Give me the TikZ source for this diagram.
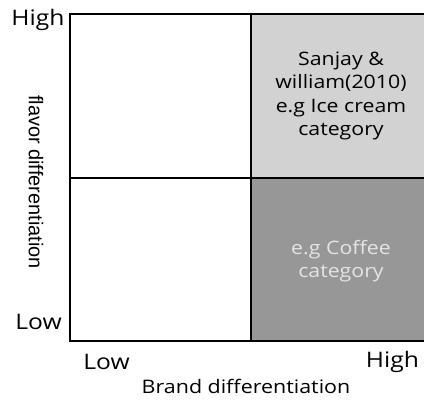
\documentclass[tikz,border=0pt]{standalone}
\usepackage{fontspec}
\setmainfont{Open Sans}[FakeStretch=1.15]
\newfontfamily\sidefont{Liberation Sans}
\begin{document}
\begin{tikzpicture}[x=1bp,y=-1bp,
  frame/.style={line width=1.6bp,draw=black},
  ticklabel/.style={font=\fontsize{21.5}{24}\selectfont,inner sep=0pt},
  axistitle/.style={font=\fontsize{18.7}{22}\selectfont,inner sep=0pt},
  celltext/.style={font=\fontsize{18.6}{23.5}\selectfont,align=center,inner sep=0pt},
]
\definecolor{cellLight}{HTML}{D2D2D2}
\definecolor{cellDark}{HTML}{979797}
\definecolor{textPale}{HTML}{E4E4E4}
\useasboundingbox (0,0) rectangle (424,400);
% shaded quadrants on the high brand side
\fill[cellLight] (251,14) rectangle (424,178);
\fill[cellDark] (251,178) rectangle (424,341);
% grid lines
\draw[frame] (424,14) -- (70,14) -- (70,341) -- (424,341);
\draw[frame] (70,178) -- (424,178);
\draw[frame] (251,14) -- (251,341);
% vertical axis labels
\node[ticklabel] (yhigh) at (38,20) {High};
\node[ticklabel] (ylow) at (38.5,322) {Low};
\node[inner sep=0pt,font=\sidefont\fontsize{20}{22}\selectfont,rotate=-90] (ytitle) at (36,182) {flavor differentiation};
% horizontal axis labels
\node[ticklabel] (xlow) at (106.5,362) {Low};
\node[ticklabel] (xhigh) at (392.5,362) {High};
\node[axistitle] (xtitle) at (246,386) {Brand differentiation};
% cell texts
\node[celltext] (icecream) at (341,96) {Sanjay \&\\william(2010)\\e.g Ice cream\\category};
\node[celltext,text=textPale] (coffee) at (341,261) {e.g Coffee\\category};
\end{tikzpicture}
\end{document}
